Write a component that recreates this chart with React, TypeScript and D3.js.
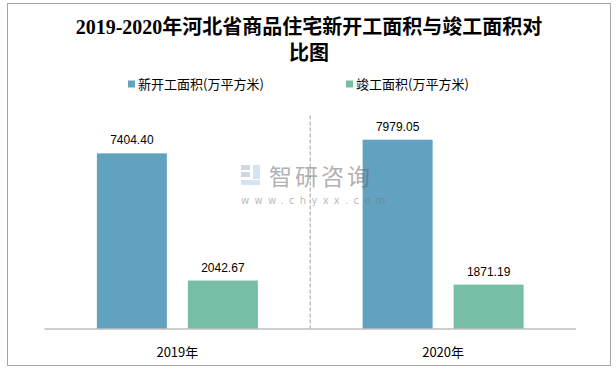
import React from 'react';
import * as d3 from 'd3';

const years = ['2019年', '2020年'];
const seriesNames = ['新开工面积(万平方米)', '竣工面积(万平方米)'];
const newStarts = [7404.4, 7979.05];
const completed = [2042.67, 1871.19];
const colors = ['#62A2C1', '#76BEA6'];

const W = 616;
const H = 370;

const App = () => {
  const x0 = d3.scaleBand<string>().domain(years).range([44.5, 576]).padding(0);
  const x1 = d3.scaleBand<string>()
    .domain(seriesNames)
    .range([0, x0.bandwidth()])
    .paddingInner(0.2308)
    .paddingOuter(0.5756);
  const y = d3.scaleLinear().domain([0, 9000]).range([329, 115.5]);

  const values = [newStarts, completed];
  const sansCn = '"Noto Sans CJK SC", "Liberation Sans", sans-serif';

  return (
    <svg width={W} height={H} style={{ position: 'absolute', left: 0, top: 0 }}>
      <rect x={0} y={0} width={W} height={H} fill="#fff" />
      <rect x={7.5} y={3.5} width={603} height={362} fill="#fff" stroke="#A6A6A6" strokeWidth={1} />

      {/* title */}
      <text
        x={309}
        textAnchor="middle"
        fontFamily='"Liberation Serif", "Noto Sans CJK SC", serif'
        fontWeight="bold"
        fontSize={20}
        fill="#000"
      >
        <tspan x={309} y={34}>2019-2020年河北省商品住宅新开工面积与竣工面积对</tspan>
        <tspan x={309} y={60}>比图</tspan>
      </text>

      {/* legend */}
      {seriesNames.map((name, i) => {
        const lx = [128, 346][i];
        return (
          <g key={name}>
            <rect x={lx} y={80.5} width={7} height={7} fill={colors[i]} />
            <text x={lx + 10} y={88.5} fontFamily={sansCn} fontSize={13} fill="#000">
              {name}
            </text>
          </g>
        );
      })}

      {/* separator between categories */}
      <line
        x1={x0(years[1])!}
        x2={x0(years[1])!}
        y1={y(9000)}
        y2={y(0)}
        stroke="#BFBFBF"
        strokeWidth={1.5}
        strokeDasharray="4,2"
      />

      {/* bars */}
      {years.map((yr, gi) => (
        <g key={yr} transform={`translate(${x0(yr)},0)`}>
          {seriesNames.map((s, si) => {
            const v = values[si][gi];
            const bx = x1(s)!;
            return (
              <g key={s}>
                <rect x={bx} y={y(v)} width={x1.bandwidth()} height={y(0) - y(v)} fill={colors[si]} />
                <text
                  x={bx + x1.bandwidth() / 2}
                  y={y(v) - 9}
                  textAnchor="middle"
                  fontFamily='"Liberation Sans", Arial, sans-serif'
                  fontSize={12}
                  fill="#000"
                >
                  {v.toFixed(2)}
                </text>
              </g>
            );
          })}
        </g>
      ))}

      {/* axis */}
      <line x1={44.5} x2={576} y1={329} y2={329} stroke="#BFBFBF" strokeWidth={1.5} />
      {years.map((yr) => (
        <text
          key={yr}
          x={x0(yr)! + x0.bandwidth() / 2}
          y={357}
          textAnchor="middle"
          fontFamily={sansCn}
          fontSize={13}
          fill="#000"
        >
          {yr}
        </text>
      ))}

      {/* watermark */}
      <g opacity={0.5}>
        <rect x={241} y={165} width={9} height={5} fill="#9FB0C8" />
        <rect x={241} y={172} width={9} height={5} fill="#9FB0C8" />
        <rect x={253} y={165} width={7} height={14} fill="#A9CBE6" />
        <rect x={241} y={180} width={19} height={5} fill="#A9CBE6" />
        <text x={269} y={185} fontFamily={sansCn} fontSize={23} fill="#666" letterSpacing={3}>
          智研咨询
        </text>
        <text x={241} y={204} fontFamily='"DejaVu Sans", sans-serif' fontSize={10} fill="#777" letterSpacing={5.3}>
          www.chyxx.com
        </text>
      </g>
    </svg>
  );
};

export default App;
